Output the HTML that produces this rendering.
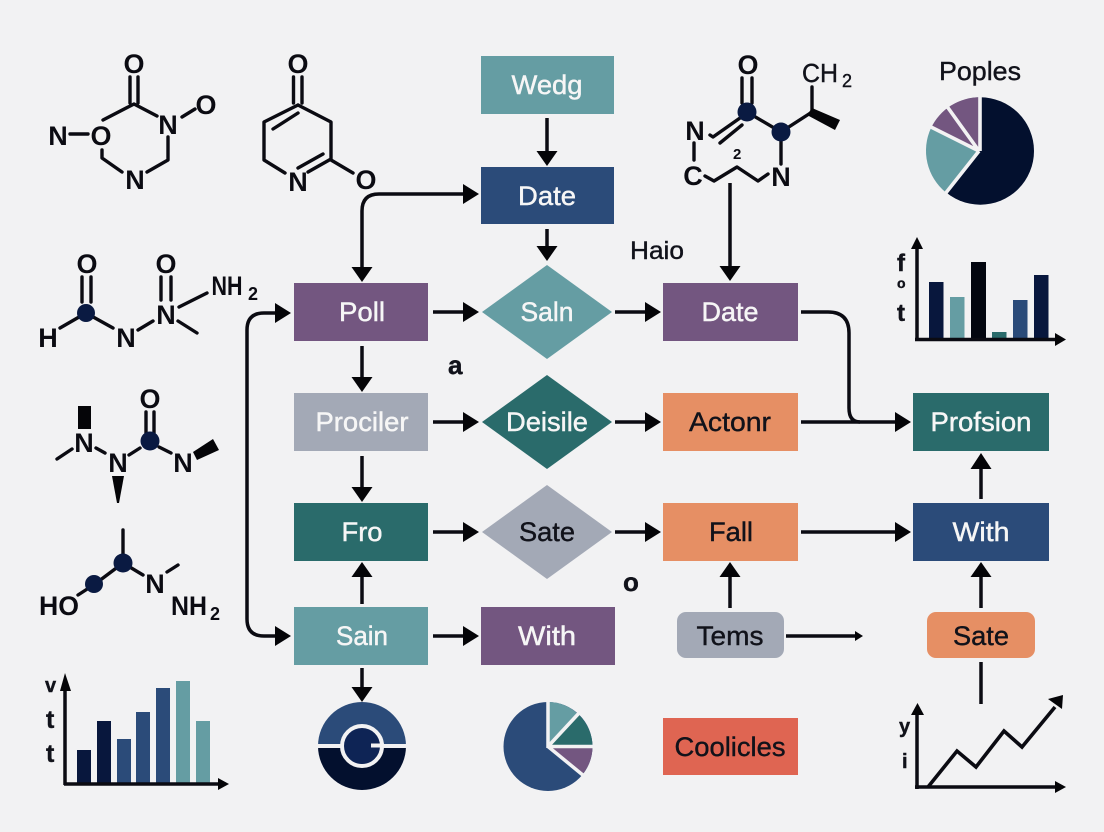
<!DOCTYPE html>
<html><head><meta charset="utf-8"><style>
html,body{margin:0;padding:0;background:#f2f2f3;width:1104px;height:832px;overflow:hidden}
svg{display:block}
text{font-family:"Liberation Sans",sans-serif}
.b{font-size:27px;text-anchor:middle}
.w{fill:#f6f6f6;stroke:#f6f6f6;stroke-width:.45}
.k{fill:#11121a;stroke:#11121a;stroke-width:.4}
.a{font-size:27px;fill:#0b0b12;font-weight:bold;text-anchor:middle}
.s{font-size:18px;fill:#0b0b12;font-weight:bold;text-anchor:middle}
.l{stroke:#0b0b12;stroke-width:3.5;fill:none}
.m{stroke:#0b0b12;stroke-width:3.4;fill:none;stroke-linecap:round;stroke-linejoin:round}
.h{fill:#050508}
.d{fill:#0a1a42}
</style></head><body>
<svg width="1104" height="832" viewBox="0 0 1104 832" xmlns="http://www.w3.org/2000/svg">
<rect width="1104" height="832" fill="#f2f2f3"/>

<!-- connectors -->
<g class="l">
<path d="M547 118V152"/><path d="M547 229V247"/>
<path d="M362 267V211Q362 194 379 194H466"/>
<path d="M433 312H466"/><path d="M615 312H648"/>
<path d="M362 346V378"/><path d="M362 456V488"/>
<path d="M433 422H466"/><path d="M615 422H648"/>
<path d="M433 532H466"/><path d="M615 532H648"/>
<path d="M801 422H898"/><path d="M801 532H898"/>
<path d="M801 312H828Q849 312 849 333V408Q849 422 860 422"/>
<path d="M730 183V266"/>
<path d="M981 499V468"/><path d="M981 608V577"/>
<path d="M730 608V577"/>
<path d="M362 604V577"/>
<path d="M433 636H466"/>
<path d="M362 668V688"/>
<path d="M786 636H856"/>
<path d="M981 662V704"/>
<path d="M280 313H264Q247 313 247 330V619Q247 636 264 636H280"/>
</g>
<g class="h">
<polygon points="536.500,151 557.500,151 547,166"/>
<polygon points="536.500,246 557.500,246 547,261"/>
<polygon points="351.500,267 372.500,267 362,282"/>
<polygon points="463,184 463,204 479,194"/>
<polygon points="275,303 275,323 291,313"/>
<polygon points="275,626 275,646 291,636"/>
<polygon points="463,302 463,322 479,312"/>
<polygon points="645,302 645,322 661,312"/>
<polygon points="463,412 463,432 479,422"/>
<polygon points="645,412 645,432 661,422"/>
<polygon points="463,522 463,542 479,532"/>
<polygon points="645,522 645,542 661,532"/>
<polygon points="463,626 463,646 479,636"/>
<polygon points="895,412 895,432 911,422"/>
<polygon points="895,522 895,542 911,532"/>
<polygon points="351.500,377 372.500,377 362,392"/>
<polygon points="351.500,487 372.500,487 362,502"/>
<polygon points="351.500,577 372.500,577 362,562"/>
<polygon points="351.500,687 372.500,687 362,702"/>
<polygon points="719.500,266 740.500,266 730,281"/>
<polygon points="719.500,577 740.500,577 730,562"/>
<polygon points="970.500,577 991.500,577 981,562"/>
<polygon points="970.500,469 991.500,469 981,453"/>
<polygon points="855,631 855,641 863,636"/>
</g>

<!-- nodes -->
<rect x="481" y="56" width="133" height="58" fill="#659da3"/>
<text class="b w" x="547" y="94" textLength="71" lengthAdjust="spacingAndGlyphs">Wedg</text>
<rect x="481" y="167" width="133" height="57" fill="#2b4b79"/>
<text class="b w" x="547" y="205" textLength="58" lengthAdjust="spacingAndGlyphs">Date</text>
<rect x="294" y="283" width="134" height="58" fill="#735680"/>
<text class="b w" x="362" y="321" textLength="46" lengthAdjust="spacingAndGlyphs">Poll</text>
<polygon points="482,312 547,265 612,312 547,359" fill="#659da3"/>
<text class="b w" x="547" y="321" textLength="53" lengthAdjust="spacingAndGlyphs">Saln</text>
<rect x="663" y="283" width="135" height="58" fill="#735680"/>
<text class="b w" x="730" y="321" textLength="57" lengthAdjust="spacingAndGlyphs">Date</text>
<rect x="294" y="393" width="134" height="58" fill="#a3a9b6"/>
<text class="b w" x="362" y="431" textLength="93" lengthAdjust="spacingAndGlyphs">Prociler</text>
<polygon points="482,422 547,375 612,422 547,469" fill="#2a6b6b"/>
<text class="b w" x="547" y="431" textLength="82" lengthAdjust="spacingAndGlyphs">Deisile</text>
<rect x="663" y="393" width="135" height="58" fill="#e68f64"/>
<text class="b k" x="730" y="431" textLength="82" lengthAdjust="spacingAndGlyphs">Actonr</text>
<rect x="913" y="393" width="136" height="58" fill="#2a6b6b"/>
<text class="b w" x="981" y="431" textLength="101" lengthAdjust="spacingAndGlyphs">Profsion</text>
<rect x="294" y="503" width="134" height="58" fill="#2a6b6b"/>
<text class="b w" x="362" y="541" textLength="41" lengthAdjust="spacingAndGlyphs">Fro</text>
<polygon points="482,532 547,485 612,532 547,579" fill="#a3a9b6"/>
<text class="b k" x="547" y="541" textLength="56" lengthAdjust="spacingAndGlyphs">Sate</text>
<rect x="663" y="503" width="135" height="58" fill="#e68f64"/>
<text class="b k" x="731" y="541" textLength="44" lengthAdjust="spacingAndGlyphs">Fall</text>
<rect x="913" y="503" width="136" height="58" fill="#2b4b79"/>
<text class="b w" x="981" y="541" textLength="57" lengthAdjust="spacingAndGlyphs">With</text>
<rect x="294" y="607" width="134" height="58" fill="#659da3"/>
<text class="b w" x="362" y="645" textLength="52" lengthAdjust="spacingAndGlyphs">Sain</text>
<rect x="481" y="607" width="134" height="58" fill="#735680"/>
<text class="b w" x="547" y="645" textLength="58" lengthAdjust="spacingAndGlyphs">With</text>
<rect x="677" y="612" width="107" height="46" rx="9" fill="#a3a9b6"/>
<text class="b k" x="730" y="645" textLength="67" lengthAdjust="spacingAndGlyphs">Tems</text>
<rect x="927" y="612" width="108" height="46" rx="9" fill="#e68f64"/>
<text class="b k" x="981" y="645" textLength="56" lengthAdjust="spacingAndGlyphs">Sate</text>
<rect x="663" y="718" width="135" height="57" fill="#df6552"/>
<text class="b k" x="730" y="756" textLength="111" lengthAdjust="spacingAndGlyphs">Coolicles</text>

<text class="k" x="630" y="259" font-size="25" textLength="54" lengthAdjust="spacingAndGlyphs">Haio</text>
<text class="k" x="448" y="374" font-size="26" font-weight="bold">a</text>
<text class="k" x="623" y="591" font-size="26" font-weight="bold">o</text>
<text class="k" x="939" y="80" font-size="26" textLength="82" lengthAdjust="spacingAndGlyphs">Poples</text>

<!-- molecule 1 -->
<g class="m">
<path d="M130 77V103M138 77V103"/>
<path d="M103 120L134 104L157 116M168 137V160L147 172M102 150V158L122 172"/>
<path d="M70 134H88M182 117L195 109"/>
</g>
<g class="a">
<text x="58" y="145">N</text><text x="101" y="145">O</text><text x="168" y="134">N</text><text x="135" y="189">N</text><text x="134" y="73">O</text><text x="206" y="114">O</text>
</g>
<!-- molecule 2 -->
<g class="m">
<path d="M293.500,77V103M302,77V103"/>
<path d="M298 105L264 122V160L285 173M298 105L331 122V159L308 172M273 129L298 113M298 168L323 154M331 160L353 173"/>
</g>
<g class="a"><text x="298" y="73">O</text><text x="298" y="191">N</text><text x="366" y="189">O</text></g>
<!-- molecule 3 -->
<g class="m">
<path d="M82 277V302M91 277V302M161 277V300M171 277V300"/>
<path d="M60 328L86 313L113 328M138 330L153 321M179 307L207 293M178 321L197 333"/>
</g>
<circle class="d" cx="86" cy="313" r="9"/>
<g class="a"><text x="87" y="273">O</text><text x="166" y="273">O</text><text x="48" y="347">H</text><text x="126" y="347">N</text><text x="166" y="324">N</text><text x="227" y="295" textLength="31" lengthAdjust="spacingAndGlyphs">NH</text><text x="253" y="300" class="s">2</text></g>
<!-- molecule 4 -->
<g class="m">
<path d="M146 412V433M154 412V433"/>
<path d="M129 455L140 448M159 447L171 453M96 448L105 453M72 449L57 459"/>
</g>
<circle class="d" cx="150" cy="441" r="9.500"/>
<g class="h">
<rect x="78" y="406" width="13" height="23"/>
<polygon points="112,476 124,476 119,503 117,503"/>
<polygon points="193,452 213,439 219,450 197,460"/>
</g>
<g class="a"><text x="84" y="452">N</text><text x="118" y="472">N</text><text x="183" y="472">N</text><text x="150" y="408">O</text></g>
<!-- molecule 5 -->
<g class="m">
<path d="M123 530V563L95 584L78 595M123 563L143 575M167 572L178 565"/>
</g>
<circle class="d" cx="123" cy="563" r="9.500"/>
<circle class="d" cx="94" cy="584" r="9"/>
<g class="a"><text x="59" y="615" textLength="40" lengthAdjust="spacingAndGlyphs">HO</text><text x="155" y="593">N</text><text x="189" y="615" textLength="36" lengthAdjust="spacingAndGlyphs">NH</text><text x="215" y="620" class="s">2</text></g>
<!-- molecule 6 -->
<g class="m">
<path d="M742 78V103M752 78V103"/>
<path d="M747 112L781 132L812 112V87M781 132V164M710 135L713 137L740 118M720 143L742 125M694 143V160M705 176L714 181L737 167L758 181L768 174"/>
</g>
<polygon class="h" points="812,108 840,120 835,130 807,115"/>
<circle class="d" cx="747" cy="112" r="9.500"/>
<circle class="d" cx="781" cy="132" r="9.500"/>
<g class="a"><text x="695" y="140">N</text><text x="693" y="185">C</text><text x="781" y="186">N</text><text x="748" y="74">O</text></g>
<text class="k" x="802" y="82" font-size="26" textLength="36" lengthAdjust="spacingAndGlyphs">CH</text>
<text class="k" x="842" y="87" font-size="18">2</text>
<text x="733" y="159" font-size="15" font-weight="bold" fill="#0b0b12">2</text>

<!-- pie top right -->
<circle cx="980.300" cy="151" r="53.700" fill="#03102e"/>
<path d="M979 150L946 192.500A53.700 53.700 0 0 1 931 128Z" fill="#659da3"/>
<path d="M979 150L931 128A53.700 53.700 0 0 1 980 97.300Z" fill="#735680"/>
<path d="M979 151L945 194M979 151L929 126M979 151L946 105M980 151V95" stroke="#f2f2f3" stroke-width="3.600" fill="none"/>

<!-- bar chart top right -->
<rect x="929" y="282" width="14.500" height="58" fill="#08173d"/>
<rect x="950" y="297" width="14.500" height="43" fill="#659da3"/>
<rect x="971" y="262" width="15" height="78" fill="#03060f"/>
<rect x="992" y="332" width="14.500" height="8" fill="#2a6b6b"/>
<rect x="1013" y="300" width="14.500" height="40" fill="#2b4b79"/>
<rect x="1034" y="275" width="14.500" height="65" fill="#08173d"/>
<path class="l" d="M917 341V247M915 339.500H1057"/>
<polygon class="h" points="911,249 923,249 917,237"/>
<polygon class="h" points="1055,333 1055,346 1066,339.500"/>
<text class="k" x="897" y="271" font-size="24" font-weight="bold">f</text>
<text class="k" x="897" y="288" font-size="14" font-weight="bold">o</text>
<text class="k" x="897" y="321" font-size="24" font-weight="bold">t</text>

<!-- bar chart bottom left -->
<rect x="77" y="750" width="14" height="33" fill="#08173d"/>
<rect x="97" y="721" width="14" height="62" fill="#08173d"/>
<rect x="117" y="739" width="14" height="44" fill="#2b4b79"/>
<rect x="136" y="712" width="14" height="71" fill="#2b4b79"/>
<rect x="156" y="688" width="14" height="95" fill="#2b4b79"/>
<rect x="176" y="681" width="14" height="102" fill="#659da3"/>
<rect x="196" y="721" width="14" height="62" fill="#659da3"/>
<path class="l" d="M65 785V685M64 784H218"/>
<polygon class="h" points="60,691 71,691 65,673"/>
<polygon class="h" points="218,778 218,790 229,784"/>
<text class="k" x="45" y="692" font-size="20" font-weight="bold">v</text>
<text class="k" x="46" y="728" font-size="25" font-weight="bold">t</text>
<text class="k" x="46" y="762" font-size="25" font-weight="bold">t</text>

<!-- circle icon -->
<path d="M318 746A44 44 0 0 1 406 746Z" fill="#2b4b79"/>
<path d="M318 746A44 44 0 0 0 406 746Z" fill="#03102e"/>
<path d="M318 746H406" stroke="#f2f2f3" stroke-width="4"/>
<circle cx="362" cy="746" r="20" fill="#0e2455" stroke="#f2f2f3" stroke-width="4"/>
<path d="M371 745.500H384" stroke="#f2f2f3" stroke-width="4"/>

<!-- pie bottom -->
<circle cx="548" cy="746.500" r="44.500" fill="#2b4b79"/>
<path d="M548 746.500V702A44.500 44.500 0 0 1 578 714Z" fill="#659da3"/>
<path d="M548 746.500L578 714A44.500 44.500 0 0 1 592.500 746.500Z" fill="#2a6b6b"/>
<path d="M548 746.500H592.500A44.500 44.500 0 0 1 582 775Z" fill="#735680"/>
<path d="M548 748V700M548 746.500L580 712M548 746.500H595M548 746.500L584 776" stroke="#f2f2f3" stroke-width="3.500" fill="none"/>

<!-- line chart -->
<path class="l" d="M917 789V712M915 787H1057"/>
<polygon class="h" points="911,715 924,715 917.500,703"/>
<polygon class="h" points="1055,781 1055,793 1066,787"/>
<path class="m" style="stroke-width:3.600;stroke-linejoin:miter;stroke-linecap:butt" d="M928 787L957 751L976 767L1004 731L1022 747L1055 707"/>
<polygon class="h" points="1048,699 1063,695 1062,709"/>
<text class="k" x="899" y="733" font-size="20" font-weight="bold">y</text>
<text class="k" x="902" y="768" font-size="20" font-weight="bold">i</text>
</svg>
</body></html>
